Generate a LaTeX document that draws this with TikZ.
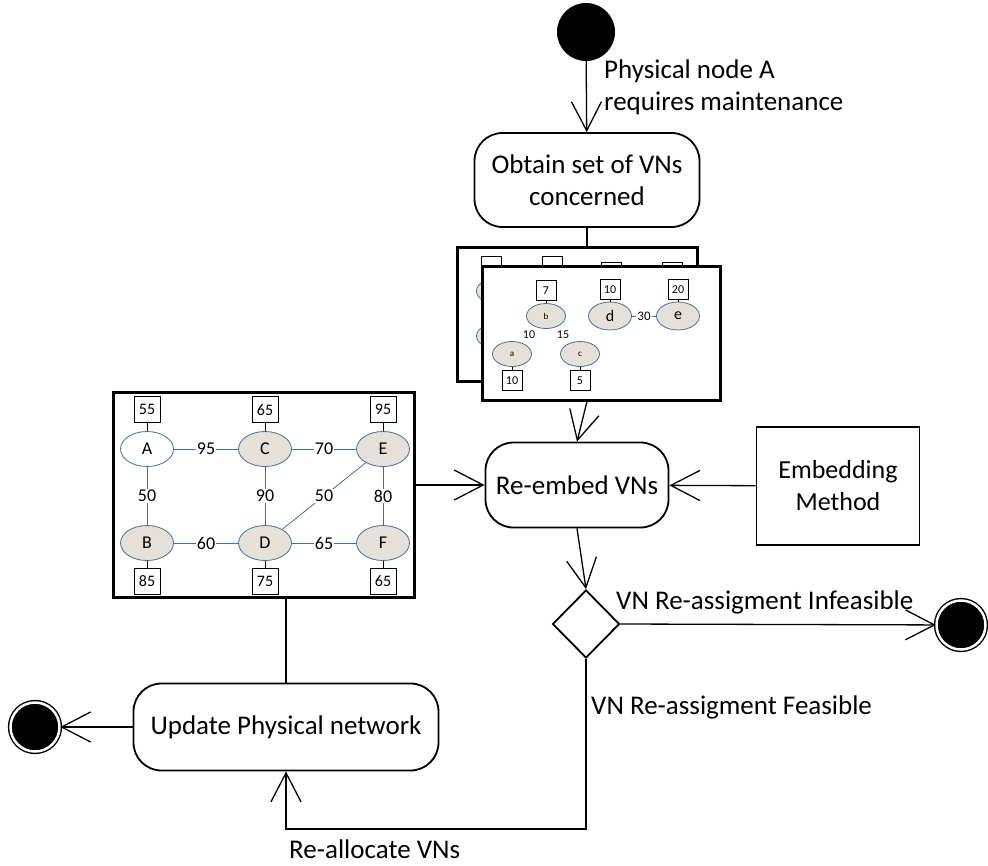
\documentclass[tikz,border=0pt]{standalone}
\usepackage{fontspec}
\setmainfont{Carlito}
\usetikzlibrary{shapes,arrows.meta,positioning}
\definecolor{nodeblue}{RGB}{65,113,156}
\definecolor{nodefill}{RGB}{230,225,216}
\tikzstyle{act}=[rectangle,draw,line width=1.8pt,rounded corners=28pt,align=center,font=\fontsize{27}{32}\selectfont]
\tikzstyle{lbl}=[inner sep=0pt,align=left,font=\fontsize{27}{32}\selectfont]
\tikzstyle{arr}=[-{Straight Barb[length=29pt,width=30pt]},line width=1.3pt]
\tikzstyle{startpt}=[circle,fill=black,minimum size=58pt,inner sep=0pt]
\tikzstyle{endpt}=[circle,draw,fill=black,line width=1.4pt,double=white,double distance=2.5pt,minimum size=49pt,inner sep=0pt]
\tikzstyle{panel}=[rectangle,draw,line width=3pt,fill=white]
\tikzstyle{pnode}=[ellipse,draw=nodeblue,fill=nodefill,line width=0.8pt,minimum width=53pt,minimum height=35pt,inner sep=0pt,font=\fontsize{18}{20}\selectfont]
\tikzstyle{vnode}=[ellipse,draw=nodeblue,fill=nodefill,line width=0.8pt,minimum width=39pt,minimum height=25pt,inner sep=0pt,font=\fontsize{9}{10}\selectfont]
\tikzstyle{vbig}=[minimum width=43pt,minimum height=28pt,font=\fontsize{16}{18}\selectfont]
\tikzstyle{capbox}=[rectangle,draw,line width=0.7pt,minimum size=26pt,inner sep=0pt,font=\fontsize{16}{18}\selectfont]
\tikzstyle{vcap}=[rectangle,draw,line width=0.7pt,minimum size=20pt,inner sep=0pt,font=\fontsize{12}{14}\selectfont]
\tikzstyle{pedge}=[draw=nodeblue,line width=0.8pt]
\tikzstyle{elbl}=[fill=white,inner sep=1pt,font=\fontsize{18}{20}\selectfont]

\begin{document}
\begin{tikzpicture}[x=1pt,y=-1pt]
\useasboundingbox (0,0) rectangle (988,865);

% main flow
\node[startpt] (start) at (586,32) {};
\node[lbl,anchor=west] (startlbl) at (604,87) {Physical node A\\requires maintenance};
\node[act,minimum width=225pt,minimum height=94pt] (obtain) at (587,180) {Obtain set of VNs\\concerned};
\node[act,minimum width=183pt,minimum height=85pt] (reembed) at (577,485) {Re-embed VNs};
\node[rectangle,draw,line width=1.8pt,minimum width=163pt,minimum height=118pt,align=center,font=\fontsize{26}{32}\selectfont] (embed) at (838,486) {Embedding\\Method};
\node[diamond,draw,line width=1.8pt,aspect=1,minimum width=67pt,minimum height=68pt,inner sep=0pt] (dec) at (586,624) {};
\node[endpt] (endR) at (961,625) {};
\node[act,minimum width=305pt,minimum height=87pt] (update) at (286,727) {Update Physical network};
\node[endpt] (endL) at (35,727) {};
\node[lbl,anchor=west] (infeas) at (616,602) {VN Re-assigment Infeasible};
\node[lbl,anchor=west] (feas) at (591,707) {VN Re-assigment Feasible};
\node[lbl,anchor=west] (realloc) at (289,849) {Re-allocate VNs};

% set of VNs (stacked)
\node[panel,minimum width=240pt,minimum height=134pt] (vnback) at (577,314) {};
\node[vcap] (bk1) at (491,266) {};
\node[vcap] (bk2) at (552,266) {};
\node[vcap] (bk3) at (611,272) {};
\node[vcap] (bk4) at (672,272) {};
\node[vnode] (bk5) at (496,291) {};
\node[vnode] (bk6) at (496,336) {};
\node[panel,minimum width=238pt,minimum height=134pt] (vnfront) at (601,333) {};
\node[vnode] (b) at (546,316) {b};
\node[vnode] (a) at (512,354) {a};
\node[vnode] (c) at (580,354) {c};
\node[vnode,vbig] (d) at (610,316) {d};
\node[vnode,vbig] (e) at (678,316) {e};
\node[vcap,above=2pt of b] (cb) {7};
\node[vcap,below=3pt of a] (ca) {10};
\node[vcap,below=3pt of c] (cc) {5};
\node[vcap,above=2pt of d] (cd) {10};
\node[vcap,above=2pt of e] (ce) {20};
\foreach \n in {a,b,c,d,e} \draw[line width=0.7pt] (c\n) -- (\n);
\draw[pedge] (d) -- node[fill=white,inner sep=1pt,font=\fontsize{13}{14}\selectfont] (lde) {30} (e);
\node[font=\fontsize{12}{14}\selectfont] (lab) at (529,335) {10};
\node[font=\fontsize{12}{14}\selectfont] (lbc) at (563,335) {15};

% physical network
\node[panel,minimum width=301pt,minimum height=205pt] (phys) at (263.5,494.5) {};
\node[pnode,fill=white] (A) at (147,449) {A};
\node[pnode] (C) at (265,449) {C};
\node[pnode] (E) at (383,449) {E};
\node[pnode] (B) at (147,543) {B};
\node[pnode] (D) at (265,543) {D};
\node[pnode] (F) at (383,543) {F};
\node[capbox,above=8pt of A] (cA) {55};
\node[capbox,above=8pt of C] (cC) {65};
\node[capbox,above=8pt of E] (cE) {95};
\node[capbox,below=7pt of B] (cB) {85};
\node[capbox,below=7pt of D] (cD) {75};
\node[capbox,below=7pt of F] (cF) {65};
\foreach \n in {A,B,C,D,E,F} \draw[line width=0.7pt] (c\n) -- (\n);
\draw[pedge] (A) -- node[elbl] (lAC) {95} (C);
\draw[pedge] (C) -- node[elbl] (lCE) {70} (E);
\draw[pedge] (A) -- node[elbl] (lAB) {50} (B);
\draw[pedge] (C) -- node[elbl] (lCD) {90} (D);
\draw[pedge] (D) -- node[elbl] (lDE) {50} (E);
\draw[pedge] (E) -- node[elbl] (lEF) {80} (F);
\draw[pedge] (B) -- node[elbl] (lBD) {60} (D);
\draw[pedge] (D) -- node[elbl] (lDF) {65} (F);

% connectors
\draw[arr] (start) -- (obtain);
\draw[line width=1.3pt] (obtain.south) -- (obtain.south |- vnback.north);
\draw[arr] (obtain.south |- vnfront.south) -- (reembed.north);
\draw[arr] (phys.east |- reembed.west) -- (reembed.west);
\draw[arr] (embed) -- (reembed);
\draw[arr] (reembed.south) -- (dec.north);
\draw[arr] (dec.east) -- (endR);
\draw[arr] (dec.south) -- ++(0,170) -| (update.south);
\draw[line width=1.3pt] (update.north |- phys.south) -- (update.north);
\draw[arr] (update) -- (endL);
\end{tikzpicture}
\end{document}
